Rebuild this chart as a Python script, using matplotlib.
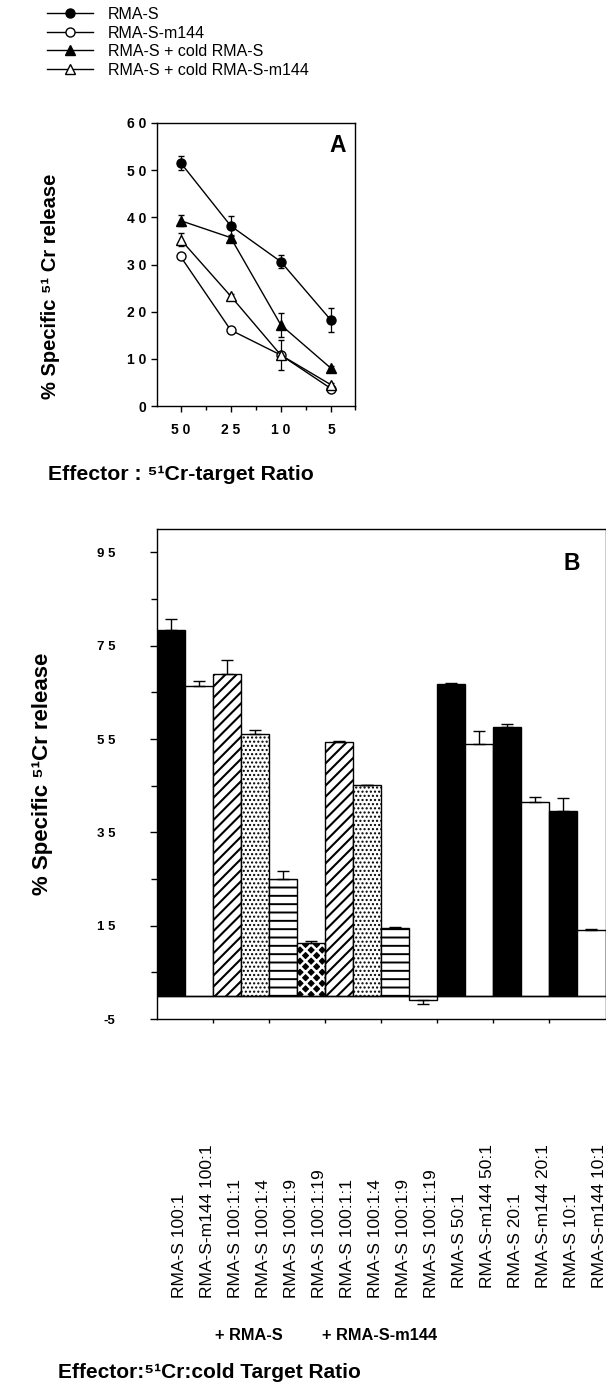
import matplotlib
matplotlib.use('Agg')
import matplotlib.pyplot as plt
import numpy as np

plt.rcParams['font.family'] = ['Liberation Sans', 'DejaVu Sans']
plt.rcParams['hatch.linewidth'] = 1.3

# ---------------- data: panel A ----------------
ratios_a = [50, 25, 10, 5]
rmas_a = [51.6, 38.2, 30.6, 18.2]
rmas_a_err = [1.5, 2.0, 1.4, 2.5]
m144_a = [31.7, 16.1, 10.8, 3.7]
m144_a_err = [0.4, 0.4, 0.4, 0.4]
cold_rmas_a = [39.3, 35.7, 17.2, 8.0]
cold_rmas_a_err = [1.2, 0.4, 2.6, 0.4]
cold_m144_a = [35.3, 23.3, 10.8, 4.5]
cold_m144_a_err = [1.3, 0.4, 3.2, 0.4]
legend_labels = ['RMA-S', 'RMA-S-m144', 'RMA-S + cold RMA-S', 'RMA-S + cold RMA-S-m144']

# ---------------- data: panel B ----------------
bar_labels = ['RMA-S 100:1', 'RMA-S-m144 100:1', 'RMA-S 100:1:1', 'RMA-S 100:1:4',
              'RMA-S 100:1:9', 'RMA-S 100:1:19', 'RMA-S 100:1:1', 'RMA-S 100:1:4',
              'RMA-S 100:1:9', 'RMA-S 100:1:19', 'RMA-S 50:1', 'RMA-S-m144 50:1',
              'RMA-S 20:1', 'RMA-S-m144 20:1', 'RMA-S 10:1', 'RMA-S-m144 10:1']
release_b = [78.3, 66.4, 68.9, 56.0, 25.1, 11.2, 54.4, 45.1, 14.4, -0.9,
             66.7, 54.0, 57.6, 41.5, 39.6, 14.0]
err_b = [2.4, 1.0, 3.0, 1.0, 1.7, 0.6, 0.2, 0.1, 0.3, 0.9,
         0.4, 2.8, 0.6, 1.0, 2.7, 0.3]
fill_b = ['solid', 'open', 'diag', 'dots', 'hlines', 'diamonds', 'diag', 'dots',
          'hlines', 'open', 'solid', 'open', 'solid', 'open', 'solid', 'open']
group_labels = ['+ RMA-S', '+ RMA-S-m144']
yticks_b = [-5, 15, 35, 55, 75, 95]

W, H = 606, 1390
DPI = 100
fig = plt.figure(figsize=(W / DPI, H / DPI), dpi=DPI)


def rect(l, t, r, b):
    return [l / W, 1 - b / H, (r - l) / W, (b - t) / H]


def spaced(v):
    s = str(v)
    if s.startswith('-'):
        return s
    return ' '.join(s)


# ================= Panel A =================
axA = fig.add_axes(rect(157, 123, 355, 406))
xa = np.arange(len(ratios_a))
styles = [
    (rmas_a, rmas_a_err, 'o', 'black'),
    (m144_a, m144_a_err, 'o', 'white'),
    (cold_rmas_a, cold_rmas_a_err, '^', 'black'),
    (cold_m144_a, cold_m144_a_err, '^', 'white'),
]
handles = []
for vals, errs, mk, fc in styles:
    c = axA.errorbar(xa, vals, yerr=errs, fmt='-', marker=mk, color='black',
                     mfc=fc, mec='black', ms=6.5, mew=1.0, lw=1.0,
                     elinewidth=0.9, capsize=2.5, capthick=0.9)
    handles.append(c[0])

axA.set_xlim(-0.47, 3.48)
axA.set_ylim(0, 60)
axA.set_yticks(range(0, 61, 10))
axA.set_yticklabels([spaced(v) for v in range(0, 61, 10)])
axA.set_xticks(xa)
axA.set_xticklabels([spaced(v) for v in ratios_a])
axA.set_xticks([0.5, 1.5, 2.5, 3.48], minor=True)
axA.tick_params(axis='y', direction='out', length=4, width=1.0, pad=3.5,
                labelsize=10)
axA.tick_params(axis='x', which='major', direction='out', length=4, width=1.0,
                pad=8, labelsize=10)
axA.tick_params(axis='x', which='minor', direction='out', length=3, width=1.0)
for lab in axA.get_xticklabels() + axA.get_yticklabels():
    lab.set_fontweight('bold')
for sp in axA.spines.values():
    sp.set_linewidth(1.0)
axA.text(0.915, 0.92, 'A', transform=axA.transAxes, ha='center', va='center',
         fontsize=16.5, fontweight='bold')
axA.set_ylabel('% Specific \u2075\u00b9 Cr release', fontsize=14.5,
               fontweight='bold', va='center')
axA.yaxis.set_label_coords((50 - 157) / 198, (406 - 286) / 283)
axA.set_xlabel('Effector : \u2075\u00b9Cr-target Ratio', fontsize=15.3,
               fontweight='bold', va='center')
axA.xaxis.set_label_coords((181 - 157) / 198, (406 - 475) / 283)

fig.legend(handles, legend_labels, loc='upper left',
           bbox_to_anchor=(47 / W, 1 - 7 / H), frameon=False, borderpad=0,
           borderaxespad=0, handlelength=2.9, handletextpad=0.9,
           labelspacing=0.22, fontsize=11.5)

# ================= Panel B =================
axB = fig.add_axes(rect(157, 529, 605.5, 1019))
xb = np.arange(len(release_b))
hatch_map = {'solid': None, 'open': None, 'diag': '///', 'dots': '....',
             'hlines': '--', 'diamonds': 'xxx'}
for i, (v, f) in enumerate(zip(release_b, fill_b)):
    if f == 'diamonds':
        with plt.rc_context({'hatch.linewidth': 1.8}):
            axB.bar(xb[i], v, width=1.0, facecolor='black', edgecolor='white',
                    hatch=hatch_map[f], linewidth=0, zorder=2)
        axB.bar(xb[i], v, width=1.0, fill=False, edgecolor='black',
                linewidth=1.0, zorder=3)
    else:
        fc = 'black' if f == 'solid' else 'white'
        lw_h = 1.5 if f == 'diag' else (1.4 if f == 'hlines' else 1.0)
        with plt.rc_context({'hatch.linewidth': lw_h}):
            axB.bar(xb[i], v, width=1.0, facecolor=fc, edgecolor='black',
                    hatch=hatch_map[f], linewidth=1.0, zorder=2)

lower = [e if v < 0 else 0 for v, e in zip(release_b, err_b)]
upper = [0 if v < 0 else e for v, e in zip(release_b, err_b)]
axB.errorbar(xb, release_b, yerr=[lower, upper], fmt='none', ecolor='black',
             elinewidth=1.0, capsize=4.5, capthick=1.0, zorder=4)
axB.axhline(0, color='black', lw=1.0, zorder=3)

axB.set_xlim(-0.5, 15.5)
axB.set_ylim(-5, 100)
axB.set_yticks(yticks_b)
axB.set_yticklabels([spaced(v) for v in yticks_b])
axB.set_yticks([5, 25, 45, 65, 85], minor=True)
axB.set_xticks(np.arange(1.5, 14.0, 2.0))
axB.set_xticklabels([])
axB.tick_params(axis='y', which='major', direction='out', length=5, width=1.0,
                pad=25, labelsize=9.5)
axB.tick_params(axis='y', which='minor', direction='out', length=4, width=1.0)
axB.tick_params(axis='x', which='major', direction='out', length=3, width=1.0)
for lab in axB.get_yticklabels():
    lab.set_fontweight('bold')
for sp in axB.spines.values():
    sp.set_linewidth(1.0)
axB.text(0.925, 0.93, 'B', transform=axB.transAxes, ha='center', va='center',
         fontsize=16.5, fontweight='bold')
axB.set_ylabel('% Specific \u2075\u00b9Cr release', fontsize=16,
               fontweight='bold', va='center')
axB.yaxis.set_label_coords((42 - 157) / 448.5, 0.5)
axB.set_xlabel('Effector:\u2075\u00b9Cr:cold Target Ratio', fontsize=15,
               fontweight='bold', va='center')
axB.xaxis.set_label_coords((209 - 157) / 448.5, (1019 - 1372) / 490)

tr = axB.get_xaxis_transform()
for i, lab in enumerate(bar_labels):
    ybot = 1298 if i < 10 else 1288
    axB.text(xb[i] + 0.3, (1019 - ybot) / 490, lab, transform=tr,
             rotation=90, ha='center', va='bottom', fontsize=12.5,
             clip_on=False)

fig.text(249 / W, 1 - 1335 / H, group_labels[0], ha='center', va='center',
         fontsize=11.8, fontweight='bold')
fig.text(380 / W, 1 - 1335 / H, group_labels[1], ha='center', va='center',
         fontsize=11.8, fontweight='bold')

fig.savefig('out.png', dpi=DPI)
